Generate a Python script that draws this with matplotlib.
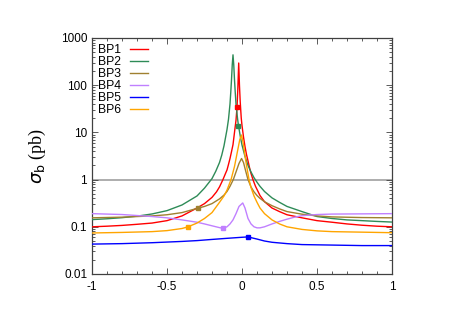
import matplotlib
matplotlib.use("Agg")
import matplotlib.pyplot as plt
from matplotlib.ticker import FixedLocator, MultipleLocator, LogLocator, NullFormatter

# ---- data ----
bp1_x = [-1, -0.9, -0.8, -0.7, -0.6, -0.5, -0.4, -0.3, -0.25, -0.2, -0.17, -0.15, -0.127, -0.11, -0.1,
         -0.09, -0.08, -0.07, -0.06, -0.047, -0.04, -0.033, -0.028, -0.022, -0.017, -0.012, -0.005, 0.0,
         0.01, 0.02, 0.03, 0.04, 0.05, 0.06, 0.073, 0.09, 0.1, 0.12, 0.15, 0.2, 0.25, 0.3, 0.4, 0.5,
         0.6, 0.7, 0.8, 0.9, 1]
bp1_y = [0.1, 0.103, 0.107, 0.113, 0.12, 0.135, 0.17, 0.25, 0.31, 0.42, 0.55, 0.7, 1.0, 1.35, 1.6,
         2.1, 2.8, 3.9, 5.5, 12, 18, 35, 80, 295, 100, 45, 20, 14,
         8, 5, 3.4, 2.5, 1.8, 1.35, 1.0, 0.72, 0.62, 0.46, 0.34, 0.25, 0.21, 0.18, 0.155, 0.135,
         0.125, 0.115, 0.108, 0.103, 0.1]

bp2_x = [-1, -0.9, -0.8, -0.7, -0.6, -0.5, -0.4, -0.3, -0.25, -0.2, -0.175, -0.15, -0.135, -0.12, -0.1,
         -0.09, -0.08, -0.075, -0.07, -0.065, -0.06, -0.055, -0.05, -0.045, -0.04, -0.03, -0.025, -0.02,
         -0.01, 0.0, 0.02, 0.04, 0.06, 0.08, 0.1, 0.12, 0.15, 0.2, 0.25, 0.3, 0.4, 0.5, 0.6, 0.7, 0.8,
         0.9, 1]
bp2_y = [0.142, 0.148, 0.156, 0.168, 0.187, 0.22, 0.29, 0.45, 0.66, 1.05, 1.5, 2.3, 3.3, 5.2, 11.5,
         19, 40, 70, 130, 270, 440, 270, 130, 70, 40, 20, 15, 12,
         7.8, 5.4, 3.1, 2.0, 1.45, 1.1, 0.88, 0.72, 0.56, 0.41, 0.33, 0.27, 0.21, 0.165, 0.15, 0.14, 0.135,
         0.13, 0.126]

bp3_x = [-1, -0.8, -0.6, -0.5, -0.4, -0.3, -0.25, -0.2, -0.15, -0.12, -0.1, -0.08, -0.058, -0.04, -0.02,
         -0.003, 0.01, 0.025, 0.04, 0.06, 0.08, 0.1, 0.12, 0.15, 0.2, 0.25, 0.3, 0.4, 0.5, 0.6, 0.8, 1]
bp3_y = [0.155, 0.16, 0.17, 0.18, 0.2, 0.245, 0.27, 0.31, 0.39, 0.47, 0.56, 0.72, 1.0, 1.45, 2.2,
         2.8, 2.3, 1.5, 1.0, 0.7, 0.55, 0.46, 0.4, 0.34, 0.28, 0.24, 0.21, 0.185, 0.17, 0.162, 0.157, 0.155]

bp4_x = [-1, -0.8, -0.6, -0.5, -0.4, -0.3, -0.25, -0.2, -0.15, -0.127, -0.1, -0.08, -0.06, -0.04, -0.02,
         0.005, 0.02, 0.04, 0.06, 0.08, 0.1, 0.12, 0.15, 0.2, 0.25, 0.3, 0.35, 0.4, 0.5, 0.6, 0.8, 1]
bp4_y = [0.19, 0.182, 0.165, 0.155, 0.14, 0.125, 0.115, 0.105, 0.096, 0.093, 0.1, 0.115, 0.14, 0.19, 0.27,
         0.32, 0.25, 0.15, 0.115, 0.1, 0.095, 0.095, 0.1, 0.115, 0.13, 0.145, 0.16, 0.172, 0.182, 0.186, 0.188, 0.19]

bp5_x = [-1, -0.8, -0.6, -0.4, -0.3, -0.2, -0.1, 0.0, 0.04, 0.1, 0.15, 0.2, 0.3, 0.4, 0.6, 0.8, 1]
bp5_y = [0.043, 0.044, 0.046, 0.049, 0.051, 0.054, 0.057, 0.06, 0.061, 0.055, 0.05, 0.047, 0.044, 0.042, 0.041, 0.04, 0.04]

bp6_x = [-1, -0.8, -0.6, -0.5, -0.4, -0.36, -0.3, -0.25, -0.2, -0.15, -0.12, -0.1, -0.073, -0.05, -0.03,
         -0.015, -0.003, 0.01, 0.02, 0.03, 0.047, 0.06, 0.08, 0.1, 0.12, 0.15, 0.2, 0.25, 0.3, 0.4, 0.5,
         0.6, 0.8, 1]
bp6_y = [0.074, 0.076, 0.079, 0.083, 0.092, 0.1, 0.12, 0.15, 0.2, 0.33, 0.45, 0.6, 1.0, 1.9, 4.0,
         7, 8.8, 5.5, 3.2, 2.0, 1.0, 0.68, 0.45, 0.33, 0.25, 0.19, 0.14, 0.115, 0.1, 0.088, 0.082,
         0.079, 0.077, 0.075]

labels = ["BP1", "BP2", "BP3", "BP4", "BP5", "BP6"]
marker_x = [-0.033, -0.025, -0.293, -0.127, 0.04, -0.36]
marker_y = [35, 14, 0.25, 0.093, 0.061, 0.1]

x_ticks = [-1, -0.5, 0, 0.5, 1]
x_tick_labels = ["-1", "-0.5", "0", "0.5", "1"]
y_ticks = [0.01, 0.1, 1, 10, 100, 1000]
y_tick_labels = ["0.01", "0.1", "1", "10", "100", "1000"]

colors = ["#ff0000", "#2e8b57", "#a08030", "#c080ff", "#0000ff", "#ffa500"]

series = [(bp1_x, bp1_y), (bp2_x, bp2_y), (bp3_x, bp3_y), (bp4_x, bp4_y), (bp5_x, bp5_y), (bp6_x, bp6_y)]

plt.rcParams["font.family"] = ["Liberation Sans", "DejaVu Sans"]
fig = plt.figure(figsize=(4.52, 3.20), dpi=100)
ax = fig.add_axes([92 / 452, 1 - 274 / 320, 300 / 452, 236 / 320])

ax.axhline(1, color="#a0a0a0", lw=1.2, zorder=1)

for (xs, ys), lab, c, mx, my in zip(series, labels, colors, marker_x, marker_y):
    ax.plot(xs, ys, color=c, lw=1.0, label=lab, zorder=3)
    ax.plot([mx], [my], marker="s", color=c, ms=3, ls="none", zorder=4)

ax.set_yscale("log")
ax.set_xlim(-1, 1)
ax.set_ylim(0.01, 1000)
ax.xaxis.set_major_locator(FixedLocator(x_ticks))
ax.set_xticklabels(x_tick_labels)
ax.xaxis.set_minor_locator(MultipleLocator(0.1))
ax.yaxis.set_major_locator(FixedLocator(y_ticks))
ax.set_yticklabels(y_tick_labels)
ax.yaxis.set_minor_locator(LogLocator(base=10, subs=range(2, 10)))
ax.yaxis.set_minor_formatter(NullFormatter())

ax.tick_params(which="both", direction="in", top=True, right=True, colors="#404040",
               labelcolor="black", labelsize=8.5, width=0.6)
ax.tick_params(which="major", length=4)
ax.tick_params(which="minor", length=2)
ax.tick_params(axis="x", pad=5)
for s in ax.spines.values():
    s.set_color("#404040")
    s.set_linewidth(0.9)

ax.set_ylabel(r"$\sigma_{\rm b}$ (pb)", fontsize=13, family=["Liberation Serif"], labelpad=9)

leg = ax.legend(loc="upper left", frameon=False, markerfirst=False, fontsize=8.8,
                handlelength=1.5, handletextpad=0.7, labelspacing=0.0,
                borderaxespad=0.1, bbox_to_anchor=(0.0, 1.0))

fig.savefig("out.png", dpi=100)
